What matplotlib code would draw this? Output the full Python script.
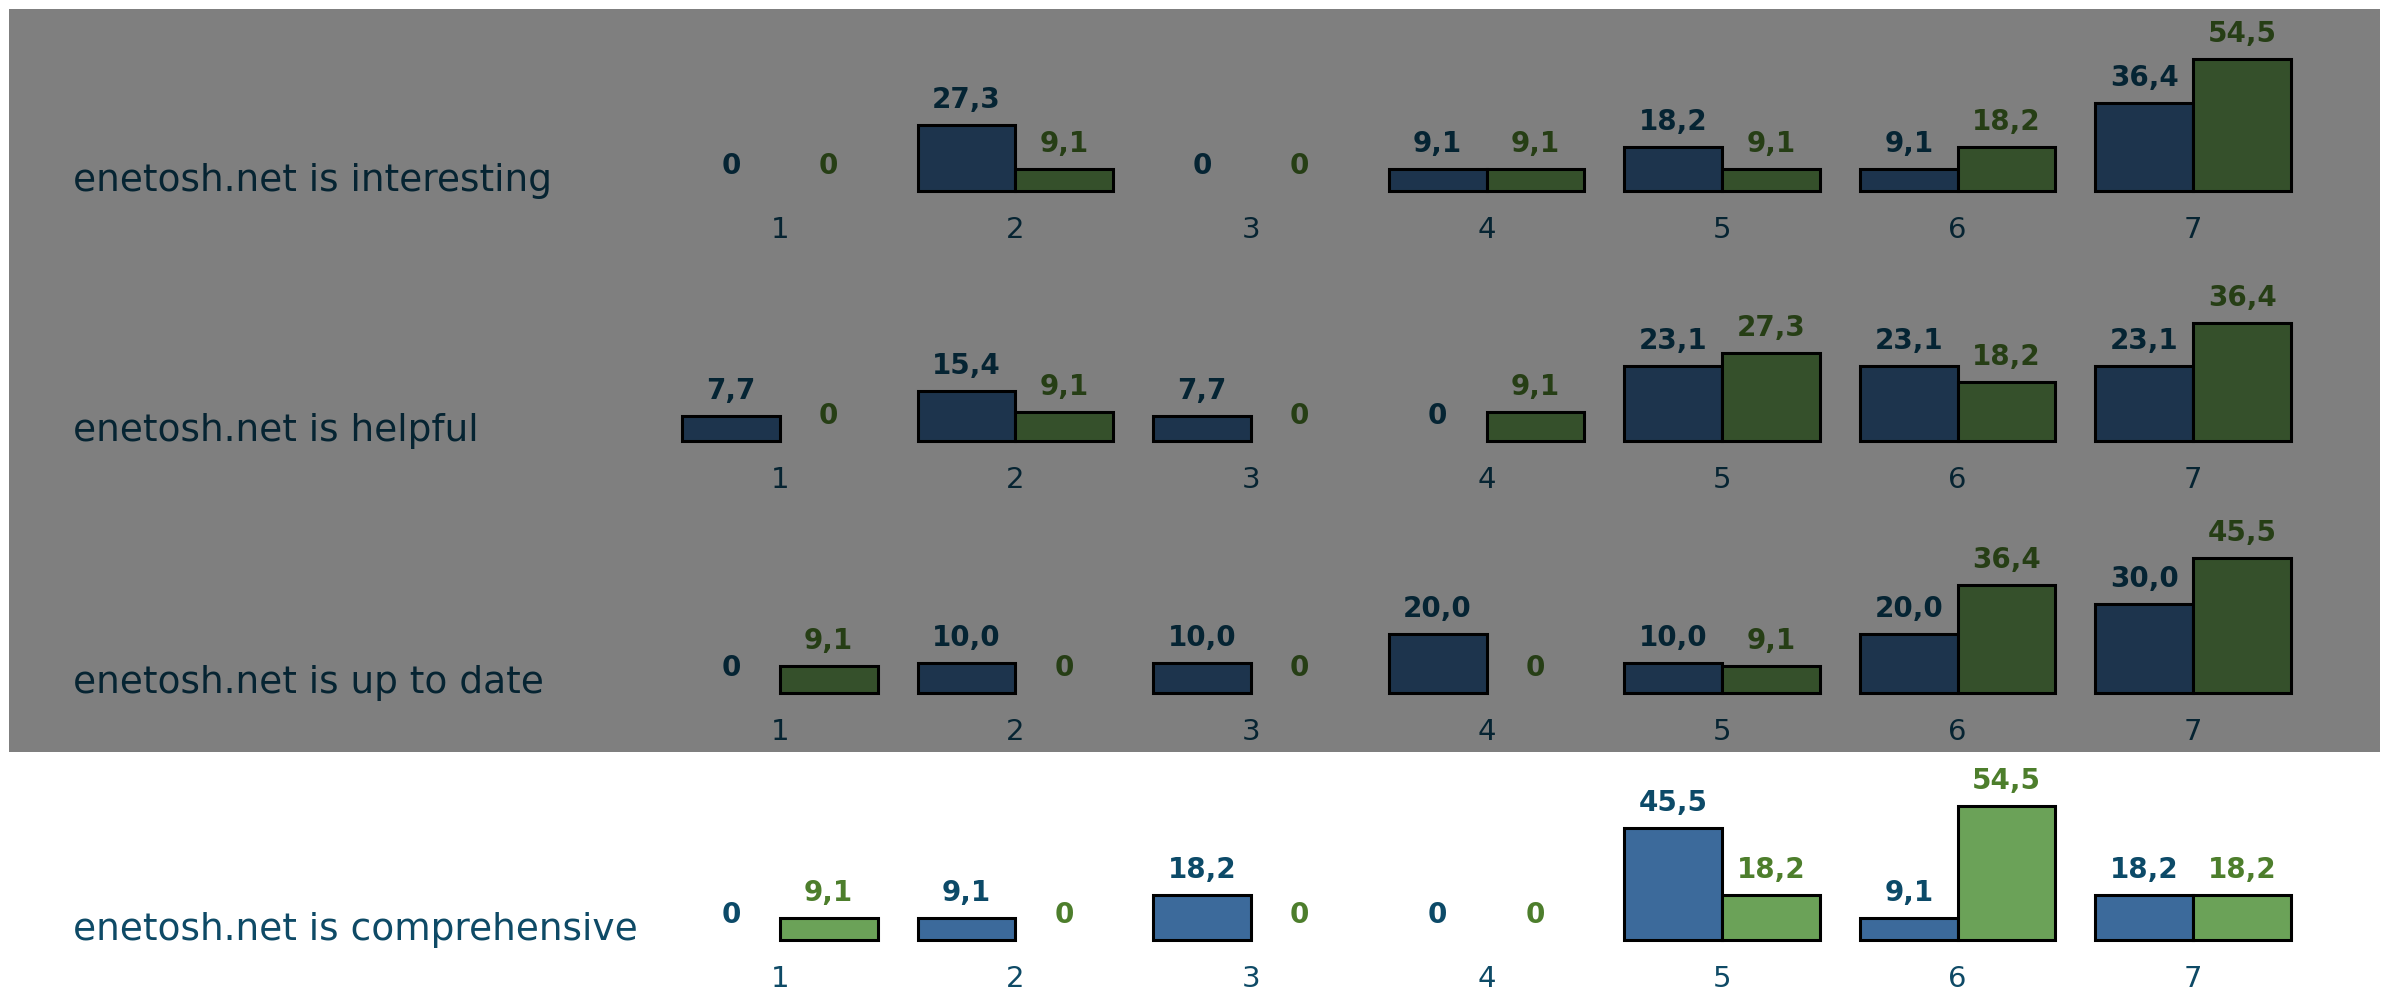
import matplotlib
matplotlib.use("Agg")
import matplotlib.pyplot as plt
from matplotlib.patches import Rectangle
import numpy as np

categories = ["1", "2", "3", "4", "5", "6", "7"]
row_labels = ["enetosh.net is interesting", "enetosh.net is helpful",
              "enetosh.net is up to date", "enetosh.net is comprehensive"]
blue_interesting = [0, 27.3, 0, 9.1, 18.2, 9.1, 36.4]
green_interesting = [0, 9.1, 0, 9.1, 9.1, 18.2, 54.5]
blue_helpful = [7.7, 15.4, 7.7, 0, 23.1, 23.1, 23.1]
green_helpful = [0, 9.1, 0, 9.1, 27.3, 18.2, 36.4]
blue_uptodate = [0, 10.0, 10.0, 20.0, 10.0, 20.0, 30.0]
green_uptodate = [9.1, 0, 0, 0, 9.1, 36.4, 45.5]
blue_comprehensive = [0, 9.1, 18.2, 0, 45.5, 9.1, 18.2]
green_comprehensive = [9.1, 0, 0, 0, 18.2, 54.5, 18.2]

rows = [(blue_interesting, green_interesting),
        (blue_helpful, green_helpful),
        (blue_uptodate, green_uptodate),
        (blue_comprehensive, green_comprehensive)]

W, H = 2383, 992
fig = plt.figure(figsize=(W / 100, H / 100), dpi=100)
fig.patch.set_facecolor("white")

FONT = ["DejaVu Sans"]
BLUE = "#3C6A9B"
GREEN = "#6BA258"
BLUE_TXT = "#0C4A68"
GREEN_TXT = "#4D7E2C"
ROW_TXT = "#0E4A66"

baselines = [191, 441, 693, 940]       # px from top
px_per_unit = [2.43, 3.24, 2.96, 2.46]
ax_h = 160
left_px, right_px = 662, 2311
w = 0.415
x = np.arange(1, 8)

def fmt(v):
    return "0" if v == 0 else f"{v:.1f}".replace(".", ",")

for i, (blue, green) in enumerate(rows):
    b = baselines[i]
    ax = fig.add_axes([left_px / W, 1 - b / H, (right_px - left_px) / W, ax_h / H])
    ax.set_xlim(0.5, 7.5)
    ax.set_ylim(0, ax_h / px_per_unit[i])
    ax.axis("off")
    lw_b = [2.2 if v > 0 else 0 for v in blue]
    lw_g = [2.2 if v > 0 else 0 for v in green]
    ax.bar(x - w / 2, blue, w, color=BLUE, edgecolor="black", linewidth=lw_b, clip_on=False)
    ax.bar(x + w / 2, green, w, color=GREEN, edgecolor="black", linewidth=lw_g, clip_on=False)
    for xi, v in zip(x, blue):
        ax.annotate(fmt(v), (xi - w / 2, v), xytext=(0, 18), textcoords="offset points",
                    ha="center", va="center", fontsize=20, fontweight="bold",
                    color=BLUE_TXT, family=FONT, annotation_clip=False)
    for xi, v in zip(x, green):
        ax.annotate(fmt(v), (xi + w / 2, v), xytext=(0, 18), textcoords="offset points",
                    ha="center", va="center", fontsize=20, fontweight="bold",
                    color=GREEN_TXT, family=FONT, annotation_clip=False)
    for xi, c in zip(x, categories):
        ax.annotate(c, (xi, 0), xytext=(0, -28), textcoords="offset points",
                    ha="center", va="center", fontsize=21, color=ROW_TXT,
                    family=FONT, annotation_clip=False)
    fig.text(73 / W, 1 - (b - 10) / H, row_labels[i], ha="left", va="center",
             fontsize=27, color=ROW_TXT, family=FONT)

# dark overlay on first three rows
fig.add_artist(Rectangle((9 / W, 1 - 752 / H), (2380 - 9) / W, (752 - 9) / H,
                         transform=fig.transFigure, facecolor="black", alpha=0.5,
                         edgecolor="none", zorder=10))

fig.savefig("out.png", dpi=100)
